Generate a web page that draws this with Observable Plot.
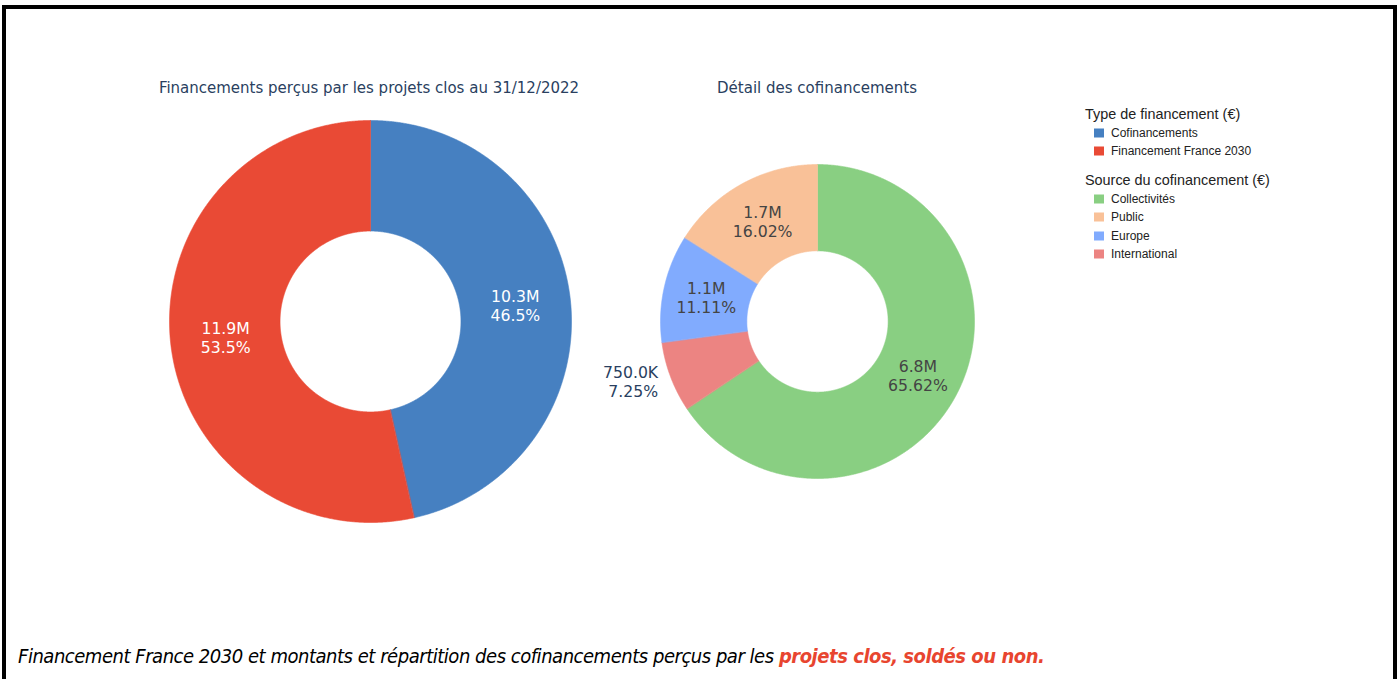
<!DOCTYPE html>
<html><head><meta charset="utf-8">
<script src="https://cdn.jsdelivr.net/npm/d3@7"></script>
<script src="https://cdn.jsdelivr.net/npm/@observablehq/plot@0.6"></script>
<style>
html,body{margin:0;padding:0;background:#fff;width:1399px;height:679px;overflow:hidden;}
#frame{position:absolute;left:2px;top:5px;width:1387px;height:670px;border:4px solid #000;}
.ptitle{position:absolute;font-family:"DejaVu Sans",Verdana,sans-serif;font-size:15px;color:#2a3f5f;white-space:nowrap;transform:translate(-50%,-50%);}
.plot{position:absolute;}
.plot svg{background:transparent;overflow:visible;}
.lgt{position:absolute;font-family:"Liberation Sans",Arial,sans-serif;font-size:14.4px;color:#222;white-space:nowrap;transform:translateY(-50%);}
.lgi{position:absolute;font-family:"Liberation Sans",Arial,sans-serif;font-size:12px;color:#222;white-space:nowrap;transform:translateY(-50%);}
.sw{position:absolute;width:10px;height:9px;transform:translateY(-50%);}
#caption{position:absolute;left:18px;top:644px;font-family:"Liberation Sans Narrow","DejaVu Sans Condensed",sans-serif;font-style:italic;font-size:20px;color:#000;white-space:nowrap;letter-spacing:-0.47px;}
#caption b{color:#e8452f;}
</style></head>
<body>
<div id="frame"></div>
<div id="root"></div>
<script>
// ---- data ----
const mainTitle = "Financements perçus par les projets clos au 31/12/2022";
const mainLegendTitle = "Type de financement (€)";
const mainLabels = ["Cofinancements", "Financement France 2030"];
const mainValues = [10345000, 11890000];
const mainColors = ["#4680c1", "#e94a35"];

const coTitle = "Détail des cofinancements";
const coLegendTitle = "Source du cofinancement (€)";
const coLabels = ["Collectivités", "Public", "Europe", "International"];
const coValues = [6788000, 1657000, 1149000, 750000];
const coColors = ["#89cf82", "#f9c198", "#81abfe", "#ec8482"];
const coSliceOrder = ["Collectivités", "International", "Europe", "Public"];

const captionText = "Financement France 2030 et montants et répartition des cofinancements perçus par les ";
const captionHighlight = "projets clos, soldés ou non.";

// ---- helpers ----
const root = document.getElementById("root");
function fmtValue(v) {
  return v >= 1e6 ? (v / 1e6).toFixed(1) + "M" : (v / 1e3).toFixed(1) + "K";
}
function donut({labels, values, colors, order, pctFmt, R, cx, cy, half, hole}) {
  const rows = order.map(l => ({label: l, value: values[labels.indexOf(l)]}));
  const total = d3.sum(rows, d => d.value);
  const arcs = d3.pie().sort(null).value(d => d.value)(rows);
  const pts = [];
  const texts = [];
  for (const a of arcs) {
    const lab = a.data.label;
    const n = Math.max(4, Math.ceil((a.endAngle - a.startAngle) / 0.005));
    for (let i = 0; i <= n; i++) {
      const t = a.startAngle + (a.endAngle - a.startAngle) * i / n;
      pts.push({label: lab, x: Math.sin(t), y: Math.cos(t)});
    }
    for (let i = n; i >= 0; i--) {
      const t = a.startAngle + (a.endAngle - a.startAngle) * i / n;
      pts.push({label: lab, x: hole * Math.sin(t), y: hole * Math.cos(t)});
    }
    const mid = (a.startAngle + a.endAngle) / 2;
    const share = a.data.value / total;
    const outside = share < 0.08;
    const r = outside ? 1.085 : (1 + hole) / 2;
    const col = colors[labels.indexOf(lab)];
    const fill = outside ? "#2a3f5f" : (d3.hcl(col).l < 62 ? "#ffffff" : "#444444");
    texts.push({
      x: r * Math.sin(mid), y: r * Math.cos(mid),
      text: fmtValue(a.data.value) + "\n" + d3.format(pctFmt)(share),
      fill, anchor: outside ? (Math.sin(mid) < 0 ? "end" : "start") : "middle"
    });
  }
  const W = 2 * half;
  const k = half / R;
  const p = Plot.plot({
    width: W, height: W, margin: 0,
    x: {domain: [-k, k], axis: null},
    y: {domain: [-k, k], axis: null},
    color: {domain: labels, range: colors},
    style: {background: "transparent", overflow: "visible"},
    marks: [
      Plot.line(pts, {x: "x", y: "y", z: "label", fill: "label", stroke: "label", strokeWidth: 0.6, curve: "linear-closed"}),
      ...["middle", "end", "start"].map(anc => Plot.text(texts.filter(d => d.anchor === anc), {
        x: "x", y: "y", text: "text", fill: d => d.fill, textAnchor: anc,
        fontSize: 15.7, lineHeight: 1.22, fontFamily: "DejaVu Sans, Verdana, sans-serif"
      }))
    ]
  });
  const wrap = document.createElement("div");
  wrap.className = "plot";
  wrap.style.left = (cx - half) + "px";
  wrap.style.top = (cy - half) + "px";
  wrap.appendChild(p);
  root.appendChild(wrap);
}
function title(text, x, y) {
  const d = document.createElement("div");
  d.className = "ptitle"; d.textContent = text;
  d.style.left = x + "px"; d.style.top = y + "px";
  root.appendChild(d);
}
function legend(t, labels, colors, x, y, ys) {
  const h = document.createElement("div");
  h.className = "lgt"; h.textContent = t;
  h.style.left = x + "px"; h.style.top = y + "px";
  root.appendChild(h);
  labels.forEach((l, i) => {
    const s = document.createElement("div");
    s.className = "sw"; s.style.background = colors[i];
    s.style.left = (x + 9) + "px"; s.style.top = ys[i] + "px";
    root.appendChild(s);
    const d = document.createElement("div");
    d.className = "lgi"; d.textContent = l;
    d.style.left = (x + 26) + "px"; d.style.top = ys[i] + "px";
    root.appendChild(d);
  });
}

donut({labels: mainLabels, values: mainValues, colors: mainColors, order: mainLabels,
  pctFmt: ".1%", R: 201, cx: 370, cy: 321, half: 212, hole: 0.45});
donut({labels: coLabels, values: coValues, colors: coColors, order: coSliceOrder,
  pctFmt: ".2%", R: 157, cx: 817, cy: 321, half: 225, hole: 0.45});
title(mainTitle, 369, 88);
title(coTitle, 817, 88);
legend(mainLegendTitle, mainLabels, mainColors, 1085, 114, [133, 151]);
legend(coLegendTitle, coLabels, coColors, 1085, 180, [199, 217, 236, 254]);

const cap = document.createElement("div");
cap.id = "caption";
cap.append(captionText);
const b = document.createElement("b");
b.textContent = captionHighlight;
cap.appendChild(b);
root.appendChild(cap);
</script>
</body></html>
